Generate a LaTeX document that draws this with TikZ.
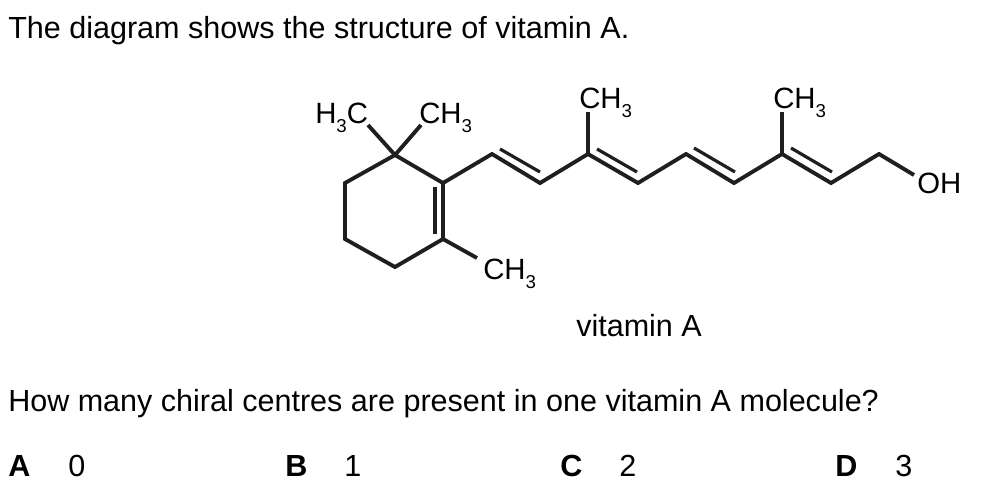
\documentclass[tikz,border=0pt]{standalone}
\usepackage{fontspec}
\setmainfont{Liberation Sans}
\usetikzlibrary{positioning}
\newcommand{\lowthree}{\raisebox{-6.8pt}{\fontsize{14}{14}\selectfont 3}}

\begin{document}
\begin{tikzpicture}[x=0.75pt,y=-0.75pt]
  \tikzset{mytext/.style={anchor=base west, inner sep=0pt, font=\fontsize{22.9}{27}\selectfont}};
  \tikzset{myatom/.style={anchor=base west, inner sep=0pt, font=\fontsize{22}{26}\selectfont}};
  \tikzset{mychoice/.style={mytext, font=\fontsize{22.9}{27}\selectfont\bfseries}};
  \tikzset{mybond/.style={line width=2.9pt, line join=miter, black!88}};
  \tikzset{myinner/.style={line width=2.4pt, black!88}};
  \useasboundingbox (0,0) rectangle (981,487);

  \node[mytext] (title) at (8,38) {The diagram shows the structure of vitamin A.};
  \node[mytext] (name) at (576,336) {vitamin A};
  \node[mytext] (question) at (8,411) {How many chiral centres are present in one vitamin A molecule?};

  \node[mychoice] (keyA) at (8,476) {A};
  \node[mytext] (valA) at (68,476) {0};
  \node[mychoice] (keyB) at (285,476) {B};
  \node[mytext] (valB) at (344,476) {1};
  \node[mychoice] (keyC) at (560,476) {C};
  \node[mytext] (valC) at (619,476) {2};
  \node[mychoice] (keyD) at (835,476) {D};
  \node[mytext] (valD) at (895,476) {3};

  \node[myatom] (me1) at (315,123) {H\lowthree C};
  \node[myatom] (me2) at (419,123) {CH\lowthree};
  \node[myatom] (me3) at (483,279) {CH\lowthree};
  \node[myatom] (me4) at (579,108) {CH\lowthree};
  \node[myatom] (me5) at (773,108) {CH\lowthree};
  \node[myatom] (oh) at (917,193) {OH};

  % ring
  \coordinate (r1) at (395,155);  \coordinate (r2) at (443,183);
  \coordinate (r3) at (443,239);  \coordinate (r4) at (395,267);
  \coordinate (r5) at (345,239);  \coordinate (r6) at (345,183);
  % chain
  \coordinate (a1) at (492,154);  \coordinate (a2) at (540,183);
  \coordinate (a3) at (588,154);  \coordinate (a4) at (638,183);
  \coordinate (a5) at (686,154);  \coordinate (a6) at (734,183);
  \coordinate (a7) at (782,154);  \coordinate (a8) at (831,183);
  \coordinate (a9) at (879,154);
  % free ends next to the labels
  \coordinate (e1) at (368,125);  \coordinate (e2) at (421,125);
  \coordinate (e3) at (477,258);  \coordinate (e4) at (588,112);
  \coordinate (e5) at (782,112);  \coordinate (e6) at (914,175);
  % inner lines of the double bonds
  \coordinate (i1) at (435,187);  \coordinate (j1) at (435,234);
  \coordinate (i2) at (500,149);  \coordinate (j2) at (540,172);
  \coordinate (i3) at (597,149);  \coordinate (j3) at (637,172);
  \coordinate (i4) at (694,148);  \coordinate (j4) at (735,172);
  \coordinate (i5) at (791,148);  \coordinate (j5) at (832,172);

  \draw [mybond] (r1) -- (r2) -- (r3) -- (r4) -- (r5) -- (r6) -- cycle;
  \draw [mybond] (r2) -- (a1) -- (a2) -- (a3) -- (a4) -- (a5) -- (a6) -- (a7) -- (a8) -- (a9) -- (e6);
  \draw [mybond] (r1) -- (e1);
  \draw [mybond] (r1) -- (e2);
  \draw [mybond] (r3) -- (e3);
  \draw [mybond] (a3) -- (e4);
  \draw [mybond] (a7) -- (e5);

  \draw [myinner] (i1) -- (j1);
  \draw [myinner] (i2) -- (j2);
  \draw [myinner] (i3) -- (j3);
  \draw [myinner] (i4) -- (j4);
  \draw [myinner] (i5) -- (j5);
\end{tikzpicture}
\end{document}
